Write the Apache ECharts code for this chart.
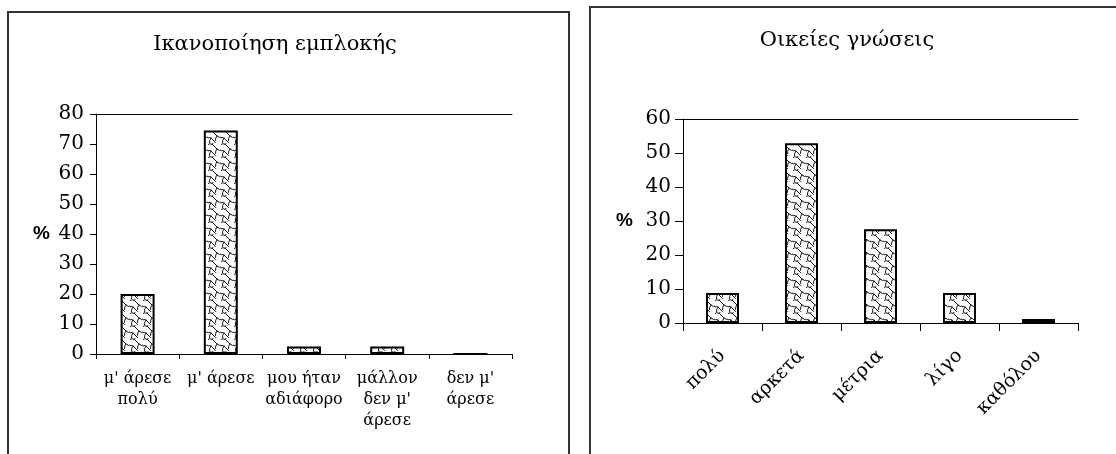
<!DOCTYPE html>
<html><head><meta charset="utf-8">
<script src="https://cdn.jsdelivr.net/npm/echarts@6/dist/echarts.min.js"></script>
<style>html,body{margin:0;padding:0;background:#fff}#c{width:1116px;height:454px}</style>
</head><body><div id="c"></div>
<script>
const titleLeft = 'Ικανοποίηση εμπλοκής';
const categoriesLeft = ["μ' άρεσε\nπολύ", "μ' άρεσε", "μου ήταν\nαδιάφορο", "μάλλον\nδεν μ'\nάρεσε", "δεν μ'\nάρεσε"];
const valuesLeft = [20, 74.5, 2.5, 2.5, 0];
const yTicksLeft = {min: 0, max: 80, interval: 10};

const titleRight = 'Οικείες γνώσεις';
const categoriesRight = ['πολύ', 'αρκετά', 'μέτρια', 'λίγο', 'καθόλου'];
const valuesRight = [8.8, 52.9, 27.6, 8.8, 1.2];
const yTicksRight = {min: 0, max: 60, interval: 10};

const axisName = '%';

function makePattern() {
  const s = 13;
  const c = document.createElement('canvas');
  c.width = s; c.height = s;
  const g = c.getContext('2d');
  g.fillStyle = '#fff'; g.fillRect(0, 0, s, s);
  g.strokeStyle = '#111'; g.lineWidth = 1; g.lineCap = 'round';
  g.beginPath();
  // shingle: wavy diagonal lines with hooks forming interlocking cells
  g.moveTo(-1, 2); g.quadraticCurveTo(2, -0.5, 4.5, 1.5); g.lineTo(9, 6); g.quadraticCurveTo(11.5, 8.5, 14, 7);
  g.moveTo(-1, 8.5); g.quadraticCurveTo(1.5, 6.5, 3, 8); g.lineTo(7.5, 12.5); g.quadraticCurveTo(8.5, 14, 10, 13.5);
  g.moveTo(9, 6); g.quadraticCurveTo(7, 8, 7.5, 10.5);
  g.moveTo(3, 8); g.quadraticCurveTo(1, 10, 1.5, 13);
  g.moveTo(4.5, 1.5); g.quadraticCurveTo(5.5, 0, 5, -1);
  g.stroke();
  return c;
}
const pat = makePattern();

const serif = 'DejaVu Serif';
const chart = echarts.init(document.getElementById('c'), null, {renderer: 'canvas'});

function yAxis(grid, t, tickLen, gap) {
  return {
    type: 'value', gridIndex: grid, min: t.min, max: t.max, interval: t.interval,
    axisLine: {show: true, lineStyle: {color: '#000', width: 1}},
    axisTick: {show: true, length: tickLen, lineStyle: {color: '#000'}},
    splitLine: {show: false},
    axisLabel: {color: '#000', fontFamily: serif, fontSize: 20, margin: 12},
    name: axisName, nameLocation: 'middle', nameRotate: 0, nameGap: gap,
    nameTextStyle: {fontFamily: 'Liberation Sans', fontWeight: 'bold', fontSize: 19, color: '#000'}
  };
}

chart.setOption({
  animation: false,
  backgroundColor: '#fff',
  title: [
    {text: titleLeft, left: 270, top: 29, textAlign: 'center',
     textStyle: {fontFamily: serif, fontWeight: 'normal', fontSize: 21, color: '#000'}},
    {text: titleRight, left: 842, top: 25, textAlign: 'center',
     textStyle: {fontFamily: serif, fontWeight: 'normal', fontSize: 21, color: '#000'}}
  ],
  grid: [
    {left: 96, right: 604, top: 114, bottom: 100},
    {left: 683, right: 38, top: 119, bottom: 131}
  ],
  xAxis: [
    {type: 'category', gridIndex: 0, data: categoriesLeft,
     axisLine: {lineStyle: {color: '#000'}},
     axisTick: {show: true, length: 5, lineStyle: {color: '#000'}},
     axisLabel: {color: '#000', fontFamily: serif, fontSize: 16, lineHeight: 21, margin: 14, interval: 0}},
    {type: 'category', gridIndex: 1, data: categoriesRight,
     axisLine: {lineStyle: {color: '#000'}},
     axisTick: {show: true, length: 8, lineStyle: {color: '#000'}},
     axisLabel: {color: '#000', fontFamily: serif, fontSize: 19, rotate: 45, margin: 30, interval: 0}},
    {type: 'category', gridIndex: 0, position: 'top', data: categoriesLeft,
     axisLine: {show: true, lineStyle: {color: '#000'}}, axisTick: {show: false}, axisLabel: {show: false}},
    {type: 'category', gridIndex: 1, position: 'top', data: categoriesRight,
     axisLine: {show: true, lineStyle: {color: '#000'}}, axisTick: {show: false}, axisLabel: {show: false}}
  ],
  yAxis: [yAxis(0, yTicksLeft, 6, 46), yAxis(1, yTicksRight, 8, 50)],
  series: [
    {type: 'bar', xAxisIndex: 0, yAxisIndex: 0, data: valuesLeft, barWidth: 34,
     itemStyle: {color: {image: pat, repeat: 'repeat'}, borderColor: '#000', borderWidth: 2}},
    {type: 'bar', xAxisIndex: 1, yAxisIndex: 1, data: valuesRight, barWidth: 33,
     itemStyle: {color: {image: pat, repeat: 'repeat'}, borderColor: '#000', borderWidth: 2}}
  ],
  graphic: [
    {type: 'rect', shape: {x: 8, y: 12, width: 561, height: 470}, style: {fill: null, stroke: '#333', lineWidth: 2}, silent: true},
    {type: 'rect', shape: {x: 590, y: 7, width: 560, height: 470}, style: {fill: null, stroke: '#333', lineWidth: 2}, silent: true}
  ]
});
</script></body></html>
